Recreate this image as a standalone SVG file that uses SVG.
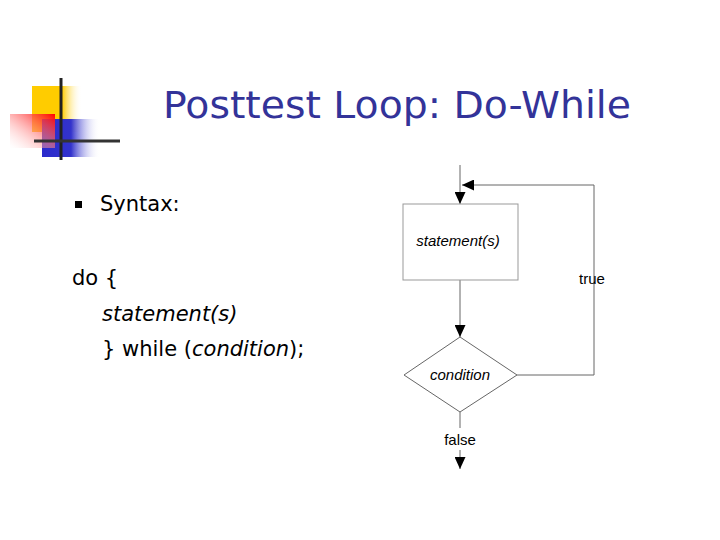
<svg xmlns="http://www.w3.org/2000/svg" width="720" height="540" viewBox="0 0 720 540">
<defs>
<linearGradient id="gy" x1="0" x2="1"><stop offset="0" stop-color="#ffcc00"/><stop offset="0.6" stop-color="#ffcc00"/><stop offset="1" stop-color="#fff" stop-opacity="0"/></linearGradient>
<linearGradient id="gb" x1="0" x2="1"><stop offset="0" stop-color="#2a2acc"/><stop offset="0.5" stop-color="#3333cc"/><stop offset="1" stop-color="#fff" stop-opacity="0"/></linearGradient>
<linearGradient id="gr" x1="1" y1="0" x2="0" y2="1"><stop offset="0" stop-color="#ff0000"/><stop offset="1" stop-color="#fff" stop-opacity="0.2"/></linearGradient>
<linearGradient id="gl" x1="0" x2="1"><stop offset="0" stop-color="#999"/><stop offset="1" stop-color="#e4e4e4"/></linearGradient>
<marker id="ah" viewBox="0 0 12 11" refX="12" refY="5.5" markerWidth="12" markerHeight="11" markerUnits="userSpaceOnUse" orient="auto"><path d="M0,0L12,5.5L0,11z" fill="#000"/></marker>
</defs>
<style>
.t{font-family:"DejaVu Sans",Verdana,sans-serif}
.a{font-family:"Liberation Sans",Arial,sans-serif;font-size:15px;fill:#000}
.ln{stroke:#666;stroke-width:1;fill:none}
</style>
<rect width="720" height="540" fill="#fff"/>
<g id="logo">
<rect x="32" y="86" width="50" height="46" fill="url(#gy)"/>
<rect x="42" y="119" width="58" height="38" fill="url(#gb)"/>
<rect x="10" y="114" width="45" height="34" fill="url(#gr)"/>
<line x1="61" y1="78" x2="61" y2="160" stroke="#222" stroke-width="3"/>
<line x1="34" y1="141" x2="120" y2="141" stroke="#333" stroke-width="3"/>
</g>
<line x1="120" y1="141" x2="665" y2="141" stroke="url(#gl)" stroke-width="2"/>
<text class="t" x="397" y="118" font-size="37" fill="#333399" text-anchor="middle" textLength="468" lengthAdjust="spacingAndGlyphs">Posttest Loop: Do-While</text>
<rect x="75" y="201" width="7" height="7" fill="#000"/>
<text class="t" x="100" y="211" font-size="21" fill="#000">Syntax:</text>
<text class="t" x="72" y="285" font-size="21" fill="#000">do {</text>
<text class="t" x="102" y="321" font-size="21" fill="#000" font-style="italic">statement(s)</text>
<text class="t" x="102" y="356" font-size="21" fill="#000">} while (<tspan font-style="italic">condition</tspan>);</text>
<g id="connectors">
<line class="ln" x1="460" y1="165" x2="460" y2="204" marker-end="url(#ah)"/>
<line class="ln" x1="460" y1="280" x2="460" y2="337" marker-end="url(#ah)"/>
<polyline class="ln" points="517,375 594,375 594,185 462,185" stroke="#999" marker-end="url(#ah)"/>
<line class="ln" x1="460" y1="412" x2="460" y2="428"/>
<line class="ln" x1="460" y1="450" x2="460" y2="469" marker-end="url(#ah)"/>
<text class="a" x="592" y="284" text-anchor="middle">true</text>
<text class="a" x="460" y="445" text-anchor="middle">false</text>
</g>
<g id="statement">
<rect x="403" y="204" width="115" height="76" fill="#fff" stroke="#999"/>
<text class="a" x="458" y="246" text-anchor="middle" font-style="italic">statement(s)</text>
</g>
<g id="condition">
<polygon points="460,337 517,375 460,412 404,375" fill="#fff" stroke="#666"/>
<text class="a" x="460" y="380" text-anchor="middle" font-style="italic">condition</text>
</g>
</svg>
